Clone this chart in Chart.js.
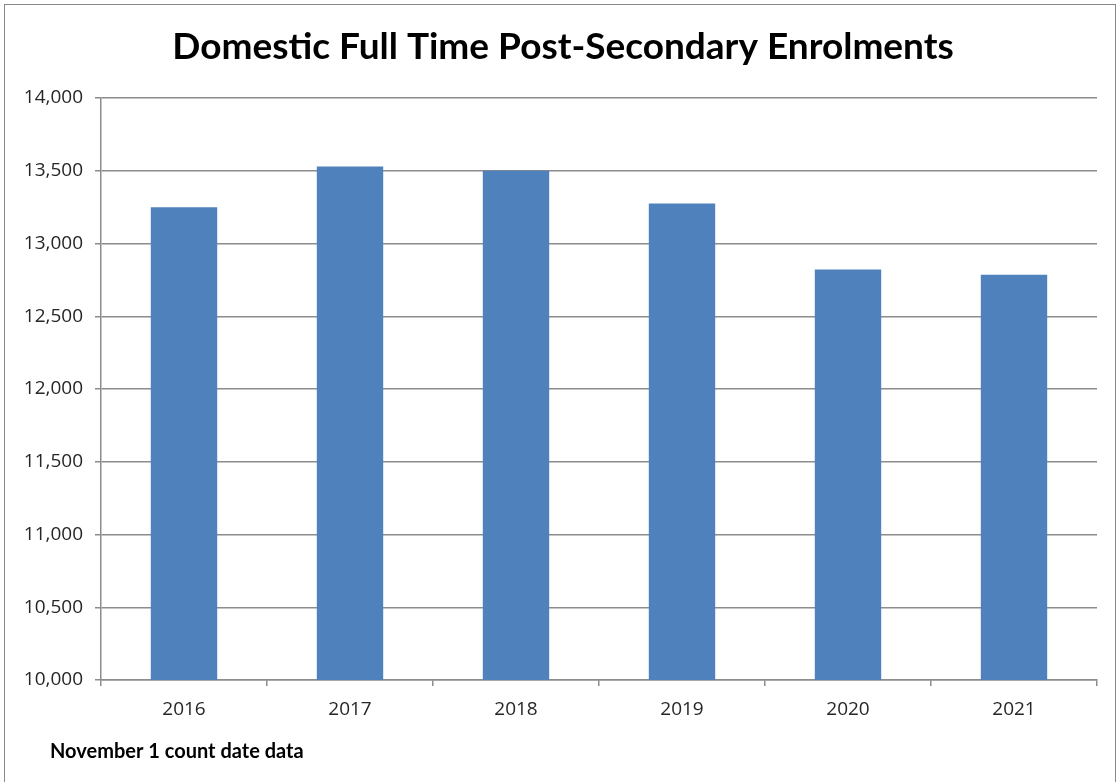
<!DOCTYPE html>
<html>
<head>
  <title>Domestic Full Time Post-Secondary Enrolments</title>
  <script src="https://cdn.jsdelivr.net/npm/chart.js"></script>
  <style>
    html, body {
      margin: 0;
      padding: 0;
      background: #ffffff;
    }
    .frame {
      position: absolute;
      left: 4px;
      top: 4px;
      width: 1112px;
      height: 790px;
      border: 1.5px solid #8a8a8a;
      box-sizing: border-box;
    }
    canvas {
      position: absolute;
      left: 0;
      top: 0;
    }
  </style>
</head>
<body>
  <div class="frame"></div>
  <canvas id="enrolmentChart" width="1119" height="782"></canvas>
  <script>
    const years = ['2016', '2017', '2018', '2019', '2020', '2021'];
    const enrolments = [13250, 13530, 13500, 13275, 12822, 12786];
    const chartTitle = 'Domestic Full Time Post-Secondary Enrolments';
    const footNote = 'November 1 count date data';

    // draws the big title and the note under the x axis
    const textPlugin = {
      id: 'texts',
      afterDraw(chart) {
        const ctx = chart.ctx;
        ctx.save();
        ctx.fillStyle = '#000000';
        ctx.textBaseline = 'middle';
        ctx.textAlign = 'center';
        ctx.font = 'bold 37px Lato';
        ctx.fillText(chartTitle, 563, 47);
        ctx.textAlign = 'left';
        ctx.font = 'bold 20px Lato';
        ctx.fillText(footNote, 50, 752);
        ctx.restore();
      }
    };

    const gridColor = '#8c8c8c';

    new Chart(document.getElementById('enrolmentChart').getContext('2d'), {
      type: 'bar',
      data: {
        labels: years,
        datasets: [{
          label: 'Enrolments',
          data: enrolments,
          backgroundColor: '#4f81bd',
          borderWidth: 0,
          barPercentage: 0.4,
          categoryPercentage: 1.0
        }]
      },
      options: {
        responsive: false,
        animation: false,
        layout: {
          padding: { left: 5, right: 22, top: 98, bottom: 52 }
        },
        plugins: {
          legend: { display: false },
          title: { display: false },
          tooltip: { enabled: false }
        },
        scales: {
          x: {
            afterFit(scale) { scale.height = 50; },
            grid: {
              offset: true,
              drawOnChartArea: false,
              drawTicks: true,
              tickLength: 6,
              color: gridColor,
              lineWidth: 1.5
            },
            border: { color: gridColor, width: 1.5 },
            ticks: {
              color: '#262626',
              font: { family: 'Open Sans', size: 19 },
              padding: 12
            }
          },
          y: {
            min: 10000,
            max: 14000,
            afterFit(scale) { scale.width = 96; },
            grid: {
              color: gridColor,
              lineWidth: 1.5,
              tickLength: 6
            },
            border: { color: gridColor, width: 1.5 },
            ticks: {
              stepSize: 500,
              color: '#262626',
              font: { family: 'Open Sans', size: 19 },
              padding: 12,
              callback: v => v.toLocaleString('en-US')
            }
          }
        }
      },
      plugins: [textPlugin]
    });
  </script>
</body>
</html>
